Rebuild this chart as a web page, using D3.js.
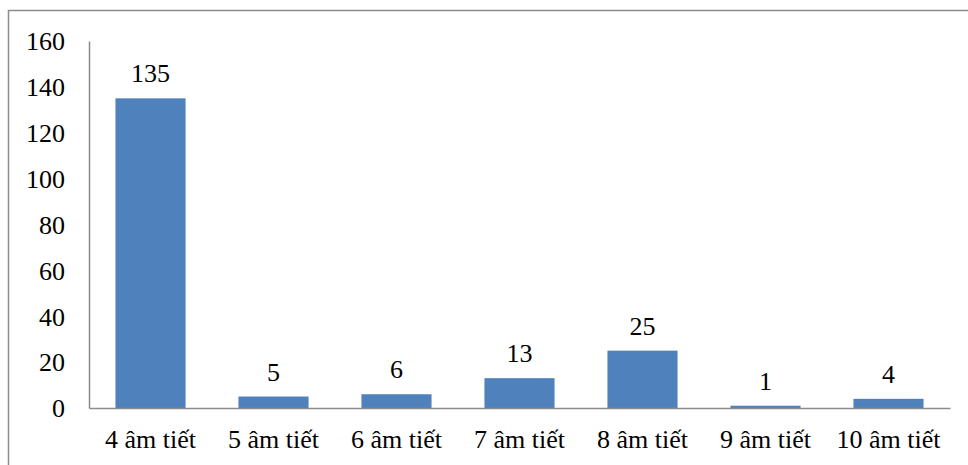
<!DOCTYPE html>
<html>
<head>
<meta charset="utf-8">
<script src="https://cdn.jsdelivr.net/npm/d3@7"></script>
<style>
  html, body { margin: 0; padding: 0; background: #fff; }
</style>
</head>
<body>
<div id="chart"></div>
<script>
// bar chart — syllable counts
const CATEGORIES = ["4 âm tiết","5 âm tiết","6 âm tiết","7 âm tiết","8 âm tiết","9 âm tiết","10 âm tiết"];
const VALUES     = [135, 5, 6, 13, 25, 1, 4];
const Y_TICKS    = [0, 20, 40, 60, 80, 100, 120, 140, 160];

const FONT = "Liberation Serif";
const W = 968, H = 465;
const margin = { top: 41, right: 18, bottom: 57, left: 89 };
const innerW = W - margin.left - margin.right;
const innerH = H - margin.top - margin.bottom;

const svg = d3.select("#chart").append("svg")
  .attr("width", W).attr("height", H);

// outer frame (runs off the right/bottom edge like the source)
svg.append("rect")
  .attr("x", 8.5).attr("y", 10.5)
  .attr("width", W + 10).attr("height", H + 10)
  .attr("fill", "none").attr("stroke", "#8c8c8c").attr("stroke-width", 1.5);

const g = svg.append("g").attr("transform", `translate(${margin.left},${margin.top})`);

const x = d3.scaleBand().domain(CATEGORIES).range([0, innerW]).paddingInner(0.43).paddingOuter(0.215);
const y = d3.scaleLinear().domain([0, 160]).range([innerH, 0]);

// y axis
const yAxis = g.append("g")
  .call(d3.axisLeft(y).tickValues(Y_TICKS).tickSize(0).tickPadding(24));
yAxis.attr("font-family", null).attr("font-size", null);
yAxis.select(".domain").attr("stroke", "#8c8c8c").attr("stroke-width", 1.5);
yAxis.selectAll("text").attr("font-family", FONT).attr("font-size", 26)
  .attr("fill", "#000").attr("dy", "0.34em");

// bars
g.selectAll("rect.bar").data(VALUES).join("rect")
  .attr("class", "bar")
  .attr("x", (d, i) => x(CATEGORIES[i]))
  .attr("width", x.bandwidth())
  .attr("y", d => y(d))
  .attr("height", d => innerH - y(d))
  .attr("fill", "#4f81bd");

// value labels
g.selectAll("text.val").data(VALUES).join("text")
  .attr("class", "val")
  .attr("x", (d, i) => x(CATEGORIES[i]) + x.bandwidth() / 2)
  .attr("y", d => y(d) - 16)
  .attr("text-anchor", "middle")
  .attr("font-family", FONT)
  .attr("font-size", 26)
  .attr("fill", "#000")
  .text(d => d);

// x axis
const xAxis = g.append("g")
  .attr("transform", `translate(0,${innerH})`)
  .call(d3.axisBottom(x).tickSize(0).tickPadding(22));
xAxis.attr("font-family", null).attr("font-size", null);
xAxis.select(".domain").attr("stroke", "#8c8c8c").attr("stroke-width", 1.5);
xAxis.selectAll("text").attr("font-family", FONT).attr("font-size", 26).attr("fill", "#000");
</script>
</body>
</html>
